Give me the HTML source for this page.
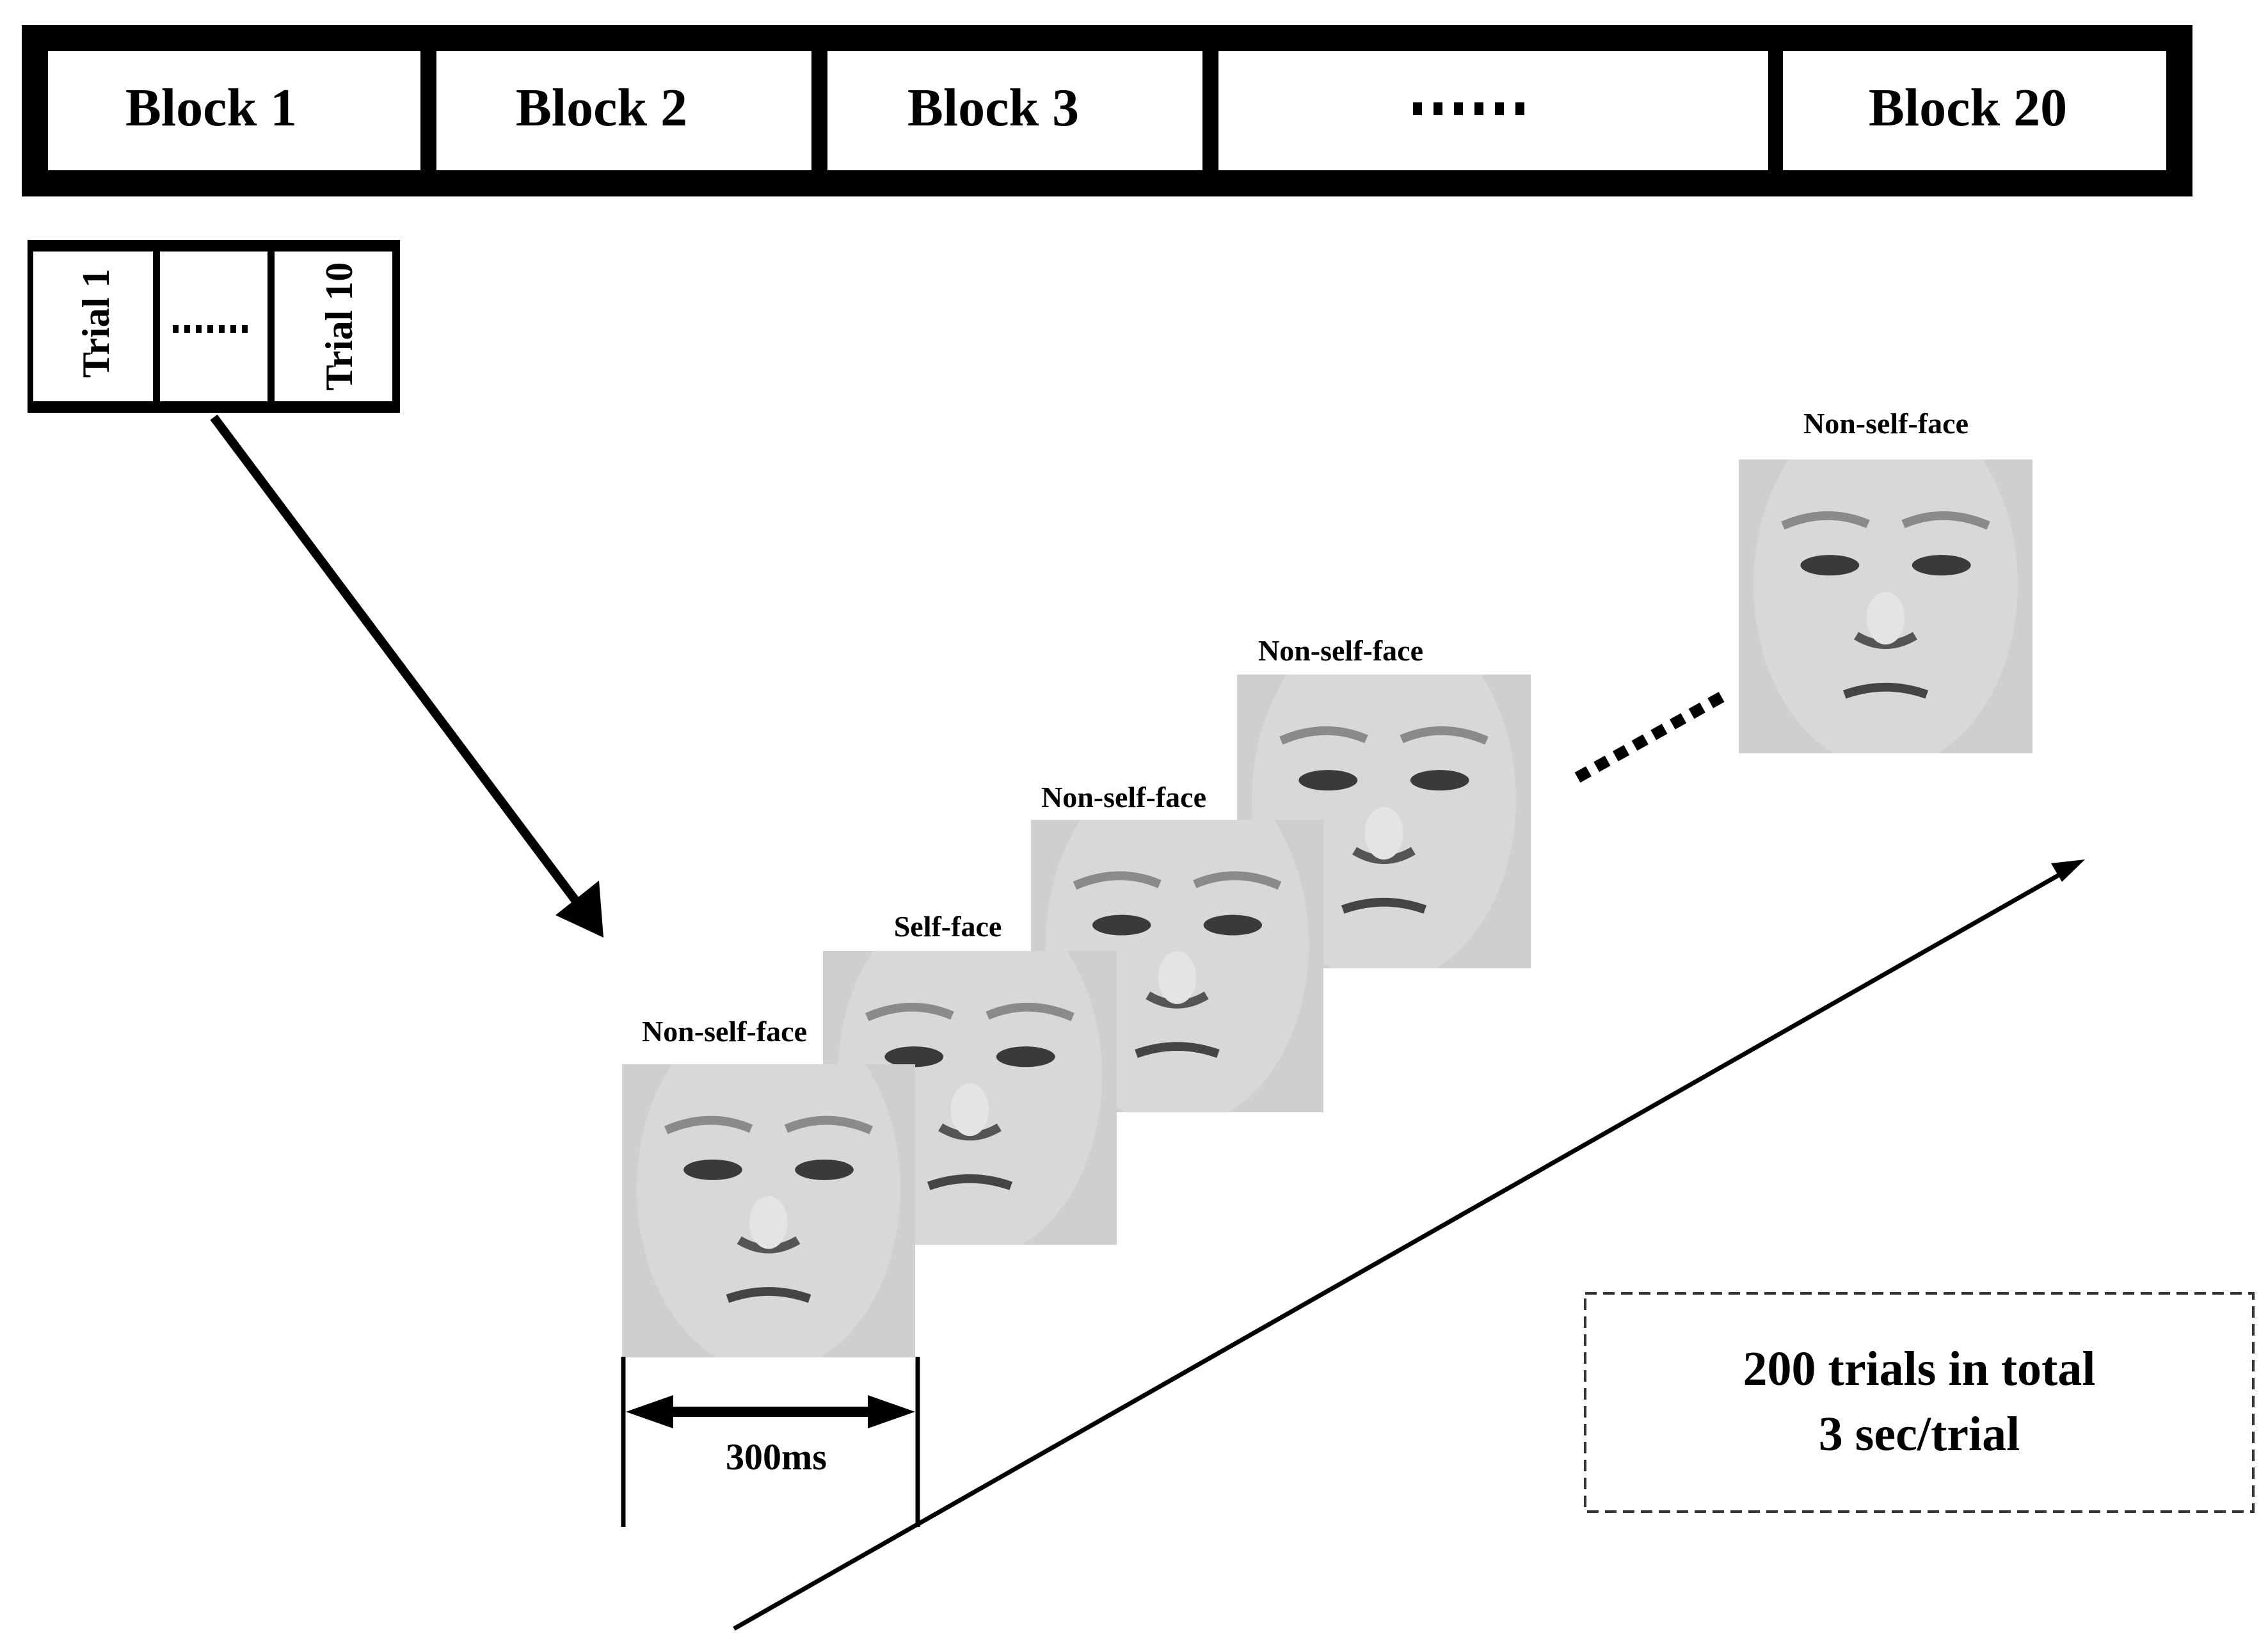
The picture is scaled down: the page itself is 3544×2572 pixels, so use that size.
<!DOCTYPE html>
<html><head><meta charset="utf-8"><style>
html,body{margin:0;padding:0;background:#fff}
svg{display:block}
text{font-family:"Liberation Serif",serif;font-weight:bold;fill:#000}
</style></head><body>
<svg width="3544" height="2572" viewBox="0 0 3544 2572" xmlns="http://www.w3.org/2000/svg">
<defs>
<clipPath id="fc"><rect x="0" y="0" width="200" height="200"/></clipPath>
<g id="face">
<g clip-path="url(#fc)">
<rect x="0" y="0" width="200" height="200" fill="#cfcfcf"/>
<ellipse cx="100" cy="85" rx="90" ry="125" fill="#d8d8d8"/>
<path d="M30 45 Q60 32 88 44" stroke="#8a8a8a" stroke-width="6" fill="none"/>
<path d="M112 44 Q140 32 170 45" stroke="#8a8a8a" stroke-width="6" fill="none"/>
<ellipse cx="62" cy="72" rx="20" ry="7" fill="#3a3a3a"/>
<ellipse cx="138" cy="72" rx="20" ry="7" fill="#3a3a3a"/>
<path d="M80 120 Q100 132 120 120" stroke="#555" stroke-width="6" fill="none"/>
<ellipse cx="100" cy="108" rx="13" ry="18" fill="#e4e4e4"/>
<path d="M72 160 Q100 150 128 160" stroke="#444" stroke-width="6" fill="none"/>
</g>
</g>
</defs>

<!-- top blocks bar -->
<rect x="34" y="39" width="3392" height="268" fill="#000"/>
<rect x="75" y="80" width="582" height="186" fill="#fff"/>
<rect x="682" y="80" width="586" height="186" fill="#fff"/>
<rect x="1293" y="80" width="586" height="186" fill="#fff"/>
<rect x="1904" y="80" width="859" height="186" fill="#fff"/>
<rect x="2786" y="80" width="599" height="186" fill="#fff"/>
<g font-size="84" text-anchor="middle">
<text x="330" y="196">Block 1</text>
<text x="940" y="196">Block 2</text>
<text x="1552" y="196">Block 3</text>
<text x="3075" y="196">Block 20</text>
</g>
<g fill="#000">
<rect x="2208" y="160" width="14" height="20"/><rect x="2240" y="160" width="14" height="20"/><rect x="2272" y="160" width="14" height="20"/><rect x="2304" y="160" width="14" height="20"/><rect x="2336" y="160" width="14" height="20"/><rect x="2368" y="160" width="14" height="20"/>
</g>

<!-- trial box -->
<rect x="43" y="375" width="582" height="270" fill="#000"/>
<rect x="52" y="393" width="187" height="234" fill="#fff"/>
<rect x="250" y="393" width="168" height="234" fill="#fff"/>
<rect x="429" y="393" width="184" height="234" fill="#fff"/>
<text font-size="60" text-anchor="middle" transform="translate(170,505) rotate(-90)">Trial 1</text>
<text font-size="60" text-anchor="middle" transform="translate(550,510) rotate(-90)">Trial 10</text>
<g fill="#000"><rect x="270" y="508" width="9" height="12"/><rect x="288" y="508" width="9" height="12"/><rect x="306" y="508" width="9" height="12"/><rect x="324" y="508" width="9" height="12"/><rect x="342" y="508" width="9" height="12"/><rect x="360" y="508" width="9" height="12"/><rect x="378" y="508" width="9" height="12"/></g>

<!-- big diagonal arrow -->
<line x1="334" y1="652" x2="915" y2="1428" stroke="#000" stroke-width="14"/>
<polygon points="943,1465 868,1430 936,1376" fill="#000"/>

<!-- faces -->
<use href="#face" transform="translate(1933,1054) scale(2.295)"/>
<use href="#face" transform="translate(1611,1281) scale(2.285)"/>
<use href="#face" transform="translate(1286,1486) scale(2.295)"/>
<use href="#face" transform="translate(972,1663) scale(2.29)"/>
<use href="#face" transform="translate(2717,718) scale(2.295)"/>
<g font-size="46" text-anchor="middle">
<text x="1132" y="1627">Non-self-face</text>
<text x="1481" y="1463">Self-face</text>
<text x="1756" y="1261">Non-self-face</text>
<text x="2095" y="1032">Non-self-face</text>
<text x="2947" y="677">Non-self-face</text>
</g>

<!-- dotted connector -->
<line x1="2465" y1="1215" x2="2699" y2="1084" stroke="#000" stroke-width="18" stroke-dasharray="20 14"/>

<!-- timeline -->
<line x1="1147" y1="2545" x2="3230" y2="1360" stroke="#000" stroke-width="7"/>
<polygon points="3258,1343 3205,1349 3222,1378" fill="#000"/>

<!-- 300ms -->
<line x1="974" y1="2120" x2="974" y2="2386" stroke="#000" stroke-width="7"/>
<line x1="1434" y1="2120" x2="1434" y2="2386" stroke="#000" stroke-width="7"/>
<line x1="1020" y1="2206" x2="1390" y2="2206" stroke="#000" stroke-width="16"/>
<polygon points="978,2206 1052,2180 1052,2232" fill="#000"/>
<polygon points="1430,2206 1356,2180 1356,2232" fill="#000"/>
<text x="1213" y="2296" font-size="58" text-anchor="middle">300ms</text>

<!-- dashed box -->
<rect x="2477" y="2021" width="1044" height="341" fill="none" stroke="#333" stroke-width="4" stroke-dasharray="18 10"/>
<g font-size="76" text-anchor="middle">
<text x="2999" y="2164">200 trials in total</text>
<text x="2999" y="2266">3 sec/trial</text>
</g>
</svg>
</body></html>
